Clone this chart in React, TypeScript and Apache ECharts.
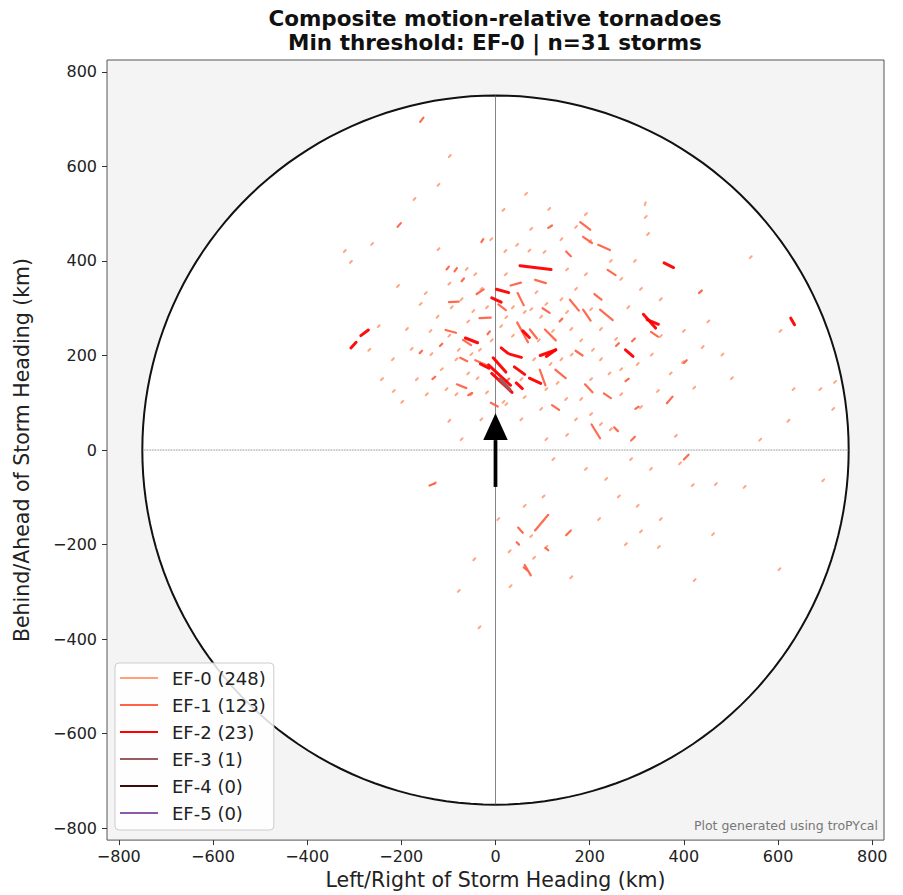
import React, { useEffect, useRef } from "react";
import * as echarts from "echarts";

const categories = ["EF-0 (248)", "EF-1 (123)", "EF-2 (23)", "EF-3 (1)", "EF-4 (0)", "EF-5 (0)"];
const catColors = ["#ffa07a", "#ff6347", "#ff0000", "#9a5a5e", "#3a0c0c", "#8a5aa8"];
const catWidths = [2, 2.2, 3, 3.5, 3.5, 3.5];

const tickValues = [-800, -600, -400, -200, 0, 200, 400, 600, 800];
const axisMin = -825;
const axisMax = 825;
const ringRadius = 750;

// tornado tracks, km: [x1, y1, x2, y2]
const ef0Tracks = [
  [-99, 620, -95, 624], [-123, 559, -119, 563], [-174, 529, -170, 533], [15, 506, 19, 510],
  [63, 540, 67, 544], [112, 508, 116, 512], [317, 518, 319, 524], [317, 491, 321, 495],
  [322, 455, 326, 459], [294, 398, 298, 402], [-322, 419, -318, 423], [-309, 396, -305, 400],
  [-264, 434, -260, 438], [-123, 423, -119, 427], [44, 432, 48, 436], [19, 419, 23, 423],
  [102, 417, 106, 421], [199, 440, 203, 444], [169, 470, 173, 474], [190, 497, 194, 501],
  [243, 398, 247, 402], [540, 406, 544, 410], [434, 334, 438, 338], [-209, 345, -205, 349],
  [-190, 254, -186, 258], [-161, 307, -157, 311], [-138, 201, -134, 205], [-220, 190, -216, 194],
  [-218, 123, -214, 127], [-243, 148, -239, 152], [-169, 148, -165, 152], [-106, 127, -102, 131],
  [-85, 116, -81, 120], [-53, 116, -49, 120], [-49, 292, -45, 296], [21, 279, 25, 283],
  [74, 296, 78, 300], [85, 332, 89, 336], [106, 307, 110, 311], [138, 317, 142, 321],
  [169, 339, 173, 343], [201, 296, 205, 300], [222, 254, 226, 258], [254, 233, 258, 237],
  [159, 254, 163, 258], [138, 190, 142, 194], [106, 127, 110, 131], [148, 106, 152, 110],
  [180, 106, 184, 110], [201, 74, 205, 78], [222, 53, 226, 57], [243, 42, 247, 46],
  [265, 116, 269, 120], [307, 89, 311, 93], [343, 123, 347, 127], [396, 184, 400, 188],
  [438, 216, 442, 220], [398, 250, 402, 254], [349, 239, 353, 243], [603, 250, 607, 254],
  [631, 127, 635, 131], [688, 127, 692, 131], [719, 142, 723, 146], [715, 85, 719, 89],
  [381, 28, 385, 32], [106, 21, 110, 25], [121, -21, 125, -17], [-131, -72, -127, -68],
  [4, -148, 8, -144], [74, -184, 78, -180], [106, -207, 110, -203], [28, -216, 32, -212],
  [-47, -233, -43, -229], [-36, -377, -32, -373], [159, -271, 163, -267], [275, -201, 279, -197],
  [307, -174, 311, -170], [349, -148, 353, -144], [417, -76, 421, -72], [466, -74, 470, -70],
  [527, -80, 531, -76], [601, -254, 605, -250], [421, -277, 425, -273], [694, -66, 698, -62],
  [345, -207, 349, -203], [218, -148, 222, -144], [233, -63, 237, -59], [190, -42, 194, -38],
  [286, -21, 290, -17], [328, -42, 332, -38], [-74, 21, -70, 25], [-32, 63, -28, 67],
  [53, 63, 57, 67], [-53, 201, -49, 205], [-85, 190, -81, 194], [-116, 169, -112, 173],
  [-148, 116, -144, 120], [-180, 212, -176, 216], [-32, 339, -28, 343], [-74, 317, -70, 321],
  [-63, 381, -59, 385], [-11, 444, -7, 448], [74, 466, 78, 470], [138, 444, 142, 448],
  [265, 360, 269, 364], [307, 339, 311, 343], [349, 317, 353, 321], [222, 190, 226, 194],
  [265, 169, 269, 173], [201, 148, 205, 152], [169, 63, 173, 67], [53, 148, 57, 152],
  [21, 95, 25, 99], [95, 85, 99, 89],
  [-95, 300, -91, 304], [-60, 270, -56, 274], [-20, 300, -16, 304], [10, 260, 14, 264],
  [35, 240, 39, 244], [60, 290, 64, 294], [95, 280, 99, 284], [120, 250, 124, 254],
  [-100, 240, -96, 244], [-80, 210, -76, 214], [-40, 150, -36, 154], [-20, 120, -16, 124],
  [15, 100, 19, 104], [60, 110, 64, 114], [80, 190, 84, 194], [115, 180, 119, 184],
  [130, 140, 134, 144], [-125, 280, -121, 284], [-140, 250, -136, 254], [-60, 160, -56, 164],
  [35, 300, 39, 304], [150, 290, 154, 294], [180, 230, 184, 234], [205, 210, 209, 214],
  [240, 160, 244, 164], [160, 200, 164, 204], [90, 230, 94, 234], [-10, 230, -6, 234],
  [-35, 210, -31, 214], [-150, 330, -146, 334], [-100, 350, -96, 354], [-45, 370, -41, 374],
  [20, 370, 24, 374], [70, 420, 74, 424], [150, 380, 154, 384], [190, 370, 194, 374],
  [280, 300, 284, 304], [300, 180, 304, 184], [330, 200, 334, 204], [370, 160, 374, 164],
  [420, 130, 424, 134], [450, 270, 454, 274], [480, 200, 484, 204], [-250, 260, -246, 264],
  [-270, 210, -266, 214], [-200, 100, -196, 104], [-100, 60, -96, 64], [150, 30, 154, 34],
  [260, -100, 264, -96], [300, -120, 304, -116], [100, -100, 104, -96], [60, -120, 64, -116],
  [-80, -300, -76, -296], [30, -290, 34, -286], [80, -230, 84, -226], [390, -30, 394, -26],
  [560, 20, 564, 24], [620, 60, 624, 64], [500, 150, 504, 154], [460, -180, 464, -176],
];

const ef1Tracks = [
  [-160, 694, -153, 703], [-208, 472, -201, 480], [112, 470, 120, 475], [186, 451, 205, 438],
  [218, 434, 243, 423], [180, 482, 201, 466], [-87, 378, -82, 385], [-104, 382, -99, 388],
  [-72, 357, -67, 363], [-99, 313, -78, 314], [47, 332, 60, 306], [-34, 279, -10, 280],
  [-69, 233, -52, 222], [-17, 245, -12, 251], [46, 270, 69, 228], [73, 255, 88, 236],
  [-82, 139, -62, 131], [-134, 150, -128, 155], [22, 145, 29, 151], [94, 170, 106, 137],
  [290, 230, 296, 236], [276, 146, 283, 151], [364, 99, 376, 113], [297, 87, 304, 92],
  [62, -243, 75, -265], [45, -195, 50, -200], [84, -170, 112, -137], [48, -164, 58, -175],
  [60, -248, 67, -254], [204, 54, 222, 25], [238, 381, 255, 370], [186, 297, 202, 274],
  [158, 318, 177, 295], [105, 255, 128, 232], [136, 272, 142, 278], [222, 297, 249, 275],
  [256, 220, 262, 226], [127, 170, 149, 152], [190, 139, 206, 122], [-43, 190, -20, 180],
  [-118, 220, -113, 225], [-106, 254, -84, 248], [-161, 205, -156, 210], [6, 308, 22, 296],
  [32, 348, 54, 354], [84, 360, 107, 353], [432, 332, 438, 337], [-30, 440, -26, 446],
  [150, 420, 160, 410], [330, 250, 345, 240], [400, 184, 406, 190], [252, 48, 260, 40],
  [-140, -75, -128, -70], [106, -207, 112, -212], [288, 20, 296, 28], [-58, 116, -50, 121],
  [-40, 330, -25, 340], [100, 300, 115, 290], [-75, 195, -60, 188], [170, 210, 185, 200],
  [230, 120, 245, 110], [120, 95, 135, 85], [-10, 100, 5, 92], [210, 330, 225, 318],
  [150, -180, 160, -170], [400, -20, 410, -10],
];

const ef2Tracks = [
  [-15, 180, 32, 137], [-8, 162, 35, 122], [-5, 195, 22, 165], [2, 340, 28, 333],
  [95, 200, 128, 212], [128, 212, 108, 198], [30, 203, 55, 196], [-64, 237, -38, 227],
  [52, 390, 118, 382], [276, 212, 292, 198], [358, 396, 378, 386], [314, 287, 340, 258],
  [322, 276, 346, 266], [-307, 216, -296, 228], [-286, 242, -270, 254], [627, 279, 635, 265],
  [40, 176, 62, 160], [-32, 182, -14, 173], [58, 252, 72, 238], [-8, 322, 12, 313],
  [44, 142, 57, 130], [72, 152, 96, 141], [12, 216, 26, 205],
];

const ef3Tracks = [[10, 150, 30, 128]];
const ef4Tracks: number[][] = [];
const ef5Tracks: number[][] = [];

const allTracks = [ef0Tracks, ef1Tracks, ef2Tracks, ef3Tracks, ef4Tracks, ef5Tracks];

// storm-motion arrow, km
const arrowShaft = [[-4, -78], [4, -78], [4, 21], [-4, 21]];
const arrowHead = [[-26, 21], [26, 21], [0, 78]];

const FONT = "DejaVu Sans";
const fmt = (v: number) => String(v).replace("-", "\u2212");

export default function App() {
  const ref = useRef<HTMLDivElement>(null);
  useEffect(() => {
    if (!ref.current) return;
    const chart = echarts.init(ref.current, null, { renderer: "svg" });
    const ring: number[][] = [];
    for (let i = 0; i <= 360; i += 2) {
      const a = (i * Math.PI) / 180;
      ring.push([ringRadius * Math.cos(a), ringRadius * Math.sin(a)]);
    }
    const trackSeries = categories.map((name, i) => ({
      name,
      type: "lines",
      coordinateSystem: "cartesian2d",
      z: 5 + i,
      silent: true,
      itemStyle: { color: catColors[i] },
      lineStyle: { color: catColors[i], width: catWidths[i], opacity: 0.95, cap: "round" },
      data: allTracks[i].map((t) => ({ coords: [[t[0], t[1]], [t[2], t[3]]] })),
    }));
    const axisCommon = {
      type: "value",
      min: axisMin,
      max: axisMax,
      axisLine: { show: false, onZero: false },
      splitLine: { show: false },
      axisTick: { show: true, customValues: tickValues, length: 5, lineStyle: { color: "#333" } },
      nameLocation: "middle",
      nameTextStyle: { fontFamily: FONT, fontSize: 20.5, color: "#222" },
    };
    chart.setOption({
      animation: false,
      backgroundColor: "#ffffff",
      grid: {
        left: 107, top: 60, right: 19, bottom: 53,
        show: true, backgroundColor: "#f4f4f4", borderColor: "#555", borderWidth: 1,
      },
      xAxis: {
        ...axisCommon,
        name: "Left/Right of Storm Heading (km)",
        nameGap: 27,
        axisLabel: { customValues: tickValues, formatter: fmt, fontFamily: FONT, fontSize: 16, color: "#222", margin: 8 },
      },
      yAxis: {
        ...axisCommon,
        name: "Behind/Ahead of Storm Heading (km)",
        nameGap: 75,
        axisLabel: { customValues: tickValues, formatter: fmt, fontFamily: FONT, fontSize: 16, color: "#222", margin: 10 },
      },
      legend: {
        orient: "vertical",
        left: 115,
        top: 663,
        padding: [6, 8, 8, 5],
        itemWidth: 38,
        itemHeight: 2,
        itemGap: 9,
        backgroundColor: "rgba(255,255,255,0.85)",
        borderColor: "#cccccc",
        borderWidth: 1,
        borderRadius: 4,
        itemStyle: { borderWidth: 0 },
        lineStyle: { width: 0 },
        textStyle: { fontFamily: FONT, fontSize: 18, color: "#222", padding: [0, 0, 0, 9] },
        data: categories.map((n, i) => ({ name: n, icon: "rect", itemStyle: { color: catColors[i], borderWidth: 0 } })),
      },
      graphic: [
        {
          type: "text", x: 495, y: 6, z: 10,
          style: {
            text: "Composite motion-relative tornadoes\nMin threshold: EF-0 | n=31 storms",
            fontFamily: FONT, fontWeight: "bold", fontSize: 21.5, lineHeight: 24,
            fill: "#111", textAlign: "center", textVerticalAlign: "top",
          },
        },
        {
          type: "text", x: 878, y: 825, z: 10,
          style: {
            text: "Plot generated using troPYcal", fontFamily: FONT, fontSize: 12.5,
            fill: "#777", textAlign: "right", textVerticalAlign: "middle",
          },
        },
      ],
      series: [
        {
          type: "custom", silent: true, z: 1, data: [[0, 0]],
          renderItem: (_p: any, api: any) => ({
            type: "polygon",
            shape: { points: ring.map((p) => api.coord(p)) },
            style: { fill: "#ffffff", stroke: "#111", lineWidth: 2 },
          }),
        },
        {
          type: "line", silent: true, z: 2, symbol: "none",
          lineStyle: { color: "#555", width: 0.8, type: "dotted" },
          data: [[-ringRadius, 0], [ringRadius, 0]],
        },
        {
          type: "line", silent: true, z: 2, symbol: "none",
          lineStyle: { color: "#666", width: 0.8 },
          data: [[0, -ringRadius], [0, ringRadius]],
        },
        ...trackSeries,
        {
          type: "custom", silent: true, z: 20, data: [[0, 0]],
          renderItem: (_p: any, api: any) => ({
            type: "group",
            children: [
              { type: "polygon", shape: { points: arrowShaft.map((p) => api.coord(p)) }, style: { fill: "#000" } },
              { type: "polygon", shape: { points: arrowHead.map((p) => api.coord(p)) }, style: { fill: "#000" } },
            ],
          }),
        },
      ],
    });
    return () => chart.dispose();
  }, []);
  return <div ref={ref} style={{ position: "fixed", left: 0, top: 0, width: 903, height: 895 }} />;
}
